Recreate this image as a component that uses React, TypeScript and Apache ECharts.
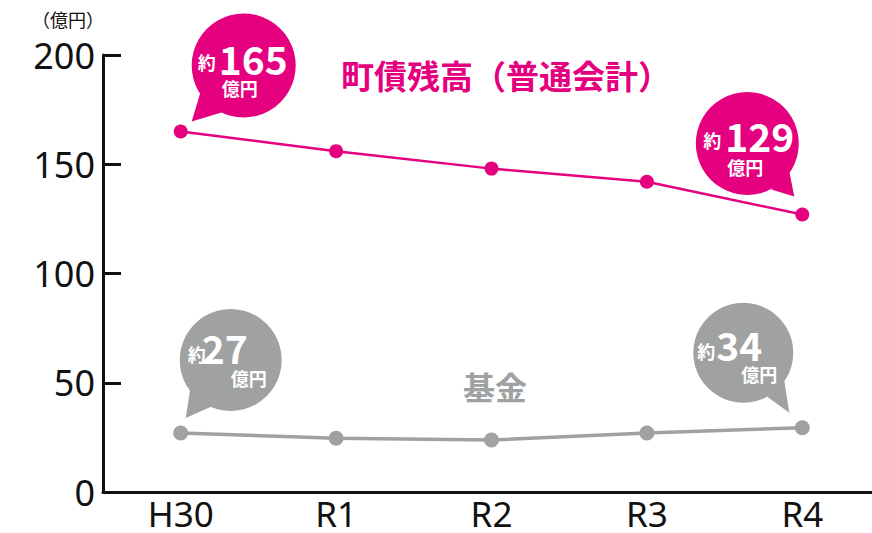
import React, { useEffect, useRef } from "react";
import * as echarts from "echarts";

const categories = ["H30", "R1", "R2", "R3", "R4"];
const debtValues = [165, 156, 148, 142, 127];
const fundValues = [27, 24.6, 23.8, 27, 29.4];
const yTicks = { min: 0, max: 200, interval: 50 };
const unitLabel = "（億円）";
const debtTitle = "町債残高（普通会計）";
const fundTitle = "基金";
const debtBubbles = [
  { index: 0, num: "165" },
  { index: 4, num: "129" },
];
const fundBubbles = [
  { index: 0, num: "27" },
  { index: 4, num: "34" },
];

const PINK = "#e4007f";
const GRAY = "#a0a1a1";
const CJK = '"Noto Sans CJK JP", "Noto Sans", sans-serif';

function bubble(px: number[], color: string, num: string, cfg: any) {
  const cx = px[0] + cfg.dx;
  const cy = px[1] + cfg.dy;
  return {
    type: "group",
    x: cx,
    y: cy,
    silent: true,
    children: [
      {
        type: "polygon",
        shape: { points: cfg.tail },
        style: { fill: color },
      },
      {
        type: "circle",
        shape: { cx: 0, cy: 0, r: cfg.r },
        style: { fill: color },
      },
      {
        type: "text",
        x: cfg.yaku[0],
        y: cfg.yaku[1],
        style: {
          text: "約",
          fill: "#fff",
          font: `bold ${cfg.small}px ${CJK}`,
          textAlign: "center",
          textVerticalAlign: "middle",
        },
      },
      {
        type: "text",
        x: cfg.numPos[0],
        y: cfg.numPos[1],
        style: {
          text: num,
          fill: "#fff",
          font: `bold ${cfg.big}px ${CJK}`,
          textAlign: "left",
          textVerticalAlign: "middle",
        },
      },
      {
        type: "text",
        x: cfg.unitPos[0],
        y: cfg.unitPos[1],
        style: {
          text: "億円",
          fill: "#fff",
          font: `bold ${cfg.small}px ${CJK}`,
          textAlign: "left",
          textVerticalAlign: "middle",
        },
      },
    ],
  };
}

export default function App() {
  const ref = useRef<HTMLDivElement>(null);
  useEffect(() => {
    if (!ref.current) return;
    const chart = echarts.init(ref.current, null, { renderer: "svg" });
    const axisFont = '"Noto Sans", sans-serif';
    chart.setOption({
      animation: false,
      grid: { left: 103, right: 0, top: 55, bottom: 41, containLabel: false },
      xAxis: {
        type: "category",
        data: categories,
        boundaryGap: true,
        axisLine: { lineStyle: { color: "#111", width: 3 } },
        axisTick: { inside: true, length: 14, lineStyle: { color: "#111", width: 3 } },
        axisLabel: {
          color: "#111",
          fontSize: 35,
          fontFamily: axisFont,
          margin: 4,
        },
        splitLine: { show: false },
      },
      yAxis: {
        type: "value",
        min: yTicks.min,
        max: yTicks.max,
        interval: yTicks.interval,
        axisLine: { show: true, lineStyle: { color: "#111", width: 3 } },
        axisTick: { show: true, inside: true, length: 18, lineStyle: { color: "#111", width: 3 } },
        axisLabel: {
          color: "#111",
          fontSize: 36,
          fontFamily: axisFont,
          margin: 8,
        },
        splitLine: { show: false },
      },
      series: [
        {
          type: "line",
          data: debtValues,
          symbol: "circle",
          symbolSize: 14,
          lineStyle: { color: PINK, width: 2.5 },
          itemStyle: { color: PINK },
          z: 3,
        },
        {
          type: "line",
          data: fundValues,
          symbol: "circle",
          symbolSize: 15,
          lineStyle: { color: GRAY, width: 3.5 },
          itemStyle: { color: GRAY },
          z: 3,
        },
      ],
    });

    const px = (s: number, i: number, v: number) =>
      chart.convertToPixel({ seriesIndex: s }, [i, v]) as number[];
    const pink0 = px(0, debtBubbles[0].index, debtValues[debtBubbles[0].index]);
    const pink4 = px(0, debtBubbles[1].index, debtValues[debtBubbles[1].index]);
    const gray0 = px(1, fundBubbles[0].index, fundValues[fundBubbles[0].index]);
    const gray4 = px(1, fundBubbles[1].index, fundValues[fundBubbles[1].index]);

    const graphics: any[] = [
      {
        type: "text",
        left: 32,
        top: 10,
        style: { text: unitLabel, fill: "#111", font: `18px ${CJK}` },
      },
      {
        type: "text",
        x: 506,
        y: 75,
        style: {
          text: debtTitle,
          fill: PINK,
          font: `bold 33px ${CJK}`,
          textAlign: "center",
          textVerticalAlign: "middle",
        },
      },
      {
        type: "text",
        x: 495,
        y: 386,
        style: {
          text: fundTitle,
          fill: GRAY,
          font: `bold 32px ${CJK}`,
          textAlign: "center",
          textVerticalAlign: "middle",
        },
      },
      bubble(pink0, PINK, debtBubbles[0].num, {
        dx: 63, dy: -66, r: 52,
        tail: [[-52, 56], [-43, 26], [-19, 46]],
        yaku: [-37, -3], numPos: [-25, -7], unitPos: [-22, 23],
        small: 18, big: 39,
      }),
      bubble(pink4, PINK, debtBubbles[1].num, {
        dx: -55, dy: -71, r: 51.5,
        tail: [[47, 53], [42, 28], [24, 46]],
        yaku: [-35, -4], numPos: [-22, -9], unitPos: [-20, 23],
        small: 18, big: 39,
      }),
      bubble(gray0, GRAY, fundBubbles[0].num, {
        dx: 50, dy: -73, r: 51,
        tail: [[-45, 58], [-40, 26], [-18, 46]],
        yaku: [-34, -6], numPos: [-29, -13], unitPos: [0, 18],
        small: 18, big: 39,
      }),
      bubble(gray4, GRAY, fundBubbles[1].num, {
        dx: -59, dy: -75, r: 50,
        tail: [[46, 60], [41, 28], [24, 44]],
        yaku: [-37, -2], numPos: [-27, -9], unitPos: [-2, 21],
        small: 18, big: 39,
      }),
    ];
    chart.setOption({ graphic: graphics });
    return () => chart.dispose();
  }, []);
  return (
    <div
      ref={ref}
      style={{ position: "fixed", left: 0, top: 0, width: 880, height: 533, background: "#fff" }}
    />
  );
}
